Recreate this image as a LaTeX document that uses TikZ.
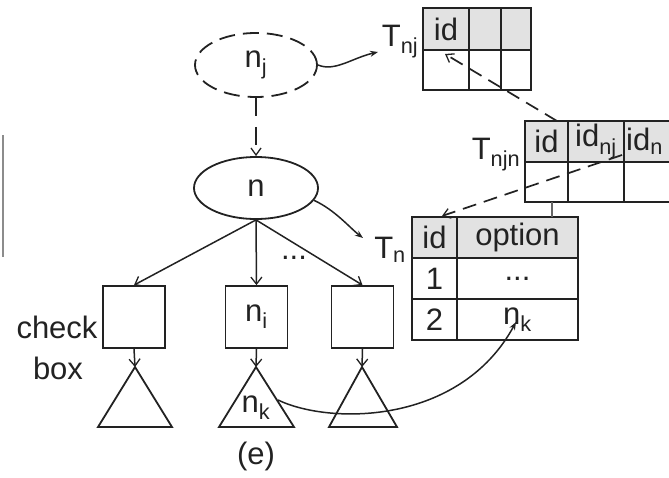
\documentclass[tikz,border=0pt]{standalone}
\usepackage{fontspec}
\setmainfont{Liberation Sans}
\usetikzlibrary{shapes.geometric,arrows.meta}
\newcommand\sbs[1]{\textsubscript{#1}}
\definecolor{ink}{HTML}{222222}
\definecolor{hdr}{HTML}{E2E2E2}
\begin{document}
\begin{tikzpicture}[x=1pt,y=-1pt,
  every node/.style={font=\fontsize{31}{36}\selectfont, inner sep=0pt, text=ink},
  shapeline/.style={draw=ink, line width=1.8pt},
  cell/.style={draw=ink, line width=1.9pt, inner sep=0pt},
  hcell/.style={cell, fill=hdr},
  treearrow/.style={draw=ink, line width=1.5pt, -{Straight Barb[length=7pt,width=11pt,line width=1.3pt]}},
  curvearrow/.style={draw=ink, line width=1.5pt, -{Stealth[length=8pt,width=6pt]}},
  dasharrow/.style={draw=ink, line width=1.7pt, dash pattern=on 14pt off 8pt, -{Straight Barb[length=7pt,width=10pt,line width=1.3pt]}},
]
\useasboundingbox (0,0) rectangle (669,477);
\clip (0,0) rectangle (669,477);

% fragment at left edge
\draw[draw=black!45, line width=1.5pt] (3,135) -- (3,257);

% ellipses
\node[ellipse, shapeline, dash pattern=on 16pt off 8pt, minimum width=122pt, minimum height=64pt] (nj) at (256,65) {n\sbs{j}};
\node[ellipse, shapeline, minimum width=124pt, minimum height=62pt] (n) at (256,188) {n};

% boxes
\node[rectangle, shapeline, minimum width=62pt, minimum height=62pt] (b1) at (134,317) {};
\node[rectangle, shapeline, minimum width=62pt, minimum height=62pt] (b2) at (256.5,317) {n\sbs{i}};
\node[rectangle, shapeline, minimum width=62pt, minimum height=62pt] (b3) at (362.5,317) {};

% triangles
\coordinate (t1) at (135,367);
\coordinate (t2) at (256,367);
\coordinate (t3) at (362,367);
\draw[shapeline] (t1) -- (172,427) -- (98,427) -- cycle;
\draw[shapeline] (t2) -- (294,427) -- (219,427) -- cycle;
\draw[shapeline] (t3) -- (397,427) -- (329,427) -- cycle;
\node (nk) at (256,408) {n\sbs{k}};

% texts
\node (check) at (57,327) {check};
\node (box) at (58,368) {box};
\node (dots) at (294,258) {...};
\node (cap) at (256,456) {(e)};

% tree arrows
\draw[dasharrow, line width=1.5pt, dash pattern=on 18pt off 11pt] (nj.south) -- (n.north);
\draw[treearrow] (n.south) -- (b1.north);
\draw[treearrow] (n.south) -- (b2.north);
\draw[treearrow] (n.south) -- (b3.north);
\draw[treearrow] (b1.south) -- (t1);
\draw[treearrow] (b2.south) -- (t2);
\draw[treearrow] (b3.south) -- (t3);

% table T_nj
\node[hcell, minimum width=46pt, minimum height=42pt] (a11) at (446,29) {id};
\node[hcell, minimum width=32pt, minimum height=42pt] (a12) at (485,29) {};
\node[hcell, minimum width=30pt, minimum height=42pt] (a13) at (516,29) {};
\node[cell, minimum width=46pt, minimum height=40pt] (a21) at (446,70) {};
\node[cell, minimum width=32pt, minimum height=40pt] (a22) at (485,70) {};
\node[cell, minimum width=30pt, minimum height=40pt] (a23) at (516,70) {};
\node (tnj) at (400,42) {T\sbs{nj}};

% table T_njn
\node[hcell, minimum width=43pt, minimum height=41pt] (c11) at (546.5,141.5) {id};
\node[hcell, minimum width=56pt, minimum height=41pt] (c12) at (596,141.5) {id\sbs{nj}};
\node[hcell, minimum width=62pt, minimum height=41pt] (c13) at (655,141.5) {};
\node[anchor=west] (c13t) at (626,141.5) {id\sbs{n}};
\node[cell, minimum width=43pt, minimum height=40pt] (c21) at (546.5,182) {};
\node[cell, minimum width=56pt, minimum height=40pt] (c22) at (596,182) {};
\node[cell, minimum width=62pt, minimum height=40pt] (c23) at (655,182) {};
\node (tnjn) at (496,155) {T\sbs{njn}};

% table T_n
\node[hcell, minimum width=45pt, minimum height=41pt] (e11) at (434.5,237.5) {id};
\node[hcell, minimum width=121pt, minimum height=41pt] (e12) at (517.5,237.5) {option};
\node[cell, minimum width=45pt, minimum height=41pt] (e21) at (434.5,278.5) {1};
\node[cell, minimum width=121pt, minimum height=41pt] (e22) at (517.5,278.5) {...};
\node[cell, minimum width=45pt, minimum height=41pt] (e31) at (434.5,319.5) {2};
\node[cell, minimum width=121pt, minimum height=41pt] (e32) at (517.5,319.5) {n\sbs{k}};
\node (tn) at (390,250) {T\sbs{n}};

% link between T_njn and T_n
\coordinate (lk1) at (552,202);
\coordinate (lk2) at (552,217);
\draw[draw=black!60, line width=1.8pt] (lk1) -- (lk2);

% curved arrows
\coordinate (tnjtip) at (378,52);
\draw[curvearrow] (nj.east) .. controls (335,72) and (352,58) .. (tnjtip);
\coordinate (tntip) at (363,238);
\draw[curvearrow] (n.-12) .. controls (335,210) and (350,228) .. (tntip);
\coordinate (trs) at (278,400);
\coordinate (nktip) at (516,322);
\draw[curvearrow] (trs) .. controls (330,425) and (460,425) .. (nktip);

% dashed arrows
\coordinate (d1s) at (557,121);
\coordinate (d1e) at (445,54);
\draw[dasharrow] (d1s) -- (d1e);
\coordinate (d2s) at (622,155);
\coordinate (d2e) at (442,216);
\draw[dasharrow] (d2s) -- (d2e);
\end{tikzpicture}
\end{document}
